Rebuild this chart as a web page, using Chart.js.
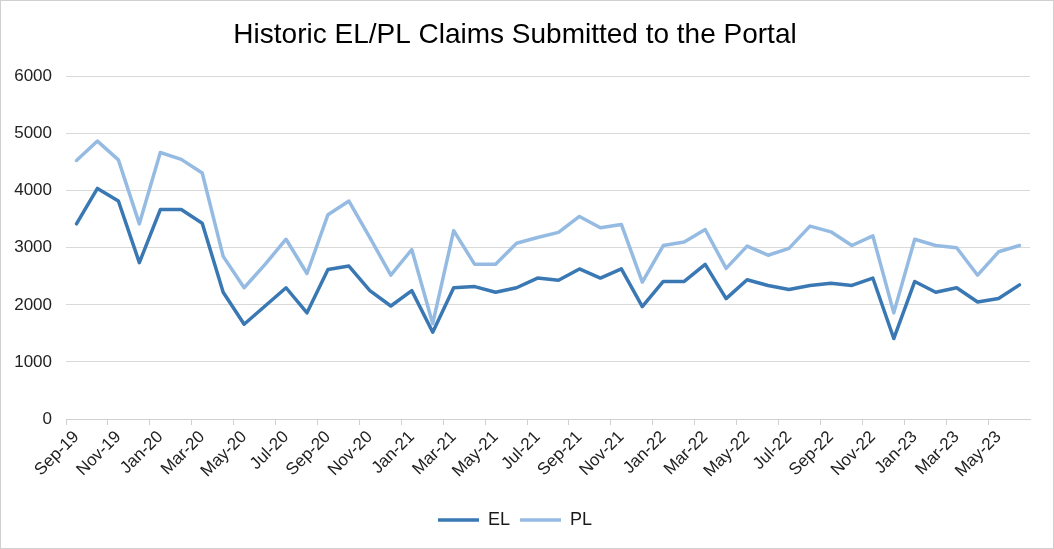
<!DOCTYPE html>
<html>
<head>
<meta charset="utf-8">
<script src="https://cdn.jsdelivr.net/npm/chart.js@4/dist/chart.umd.min.js"></script>
<style>
  body { margin: 0; background: #fff; }
  #wrap { position: relative; width: 1054px; height: 549px; }
</style>
</head>
<body>
<div id="wrap"><canvas id="myChart" width="1054" height="549"></canvas></div>
<script>
// months Sep-19 .. Jun-23
const months = [
  'Sep-19', 'Oct-19', 'Nov-19', 'Dec-19',
  'Jan-20', 'Feb-20', 'Mar-20', 'Apr-20', 'May-20', 'Jun-20', 'Jul-20', 'Aug-20', 'Sep-20', 'Oct-20', 'Nov-20', 'Dec-20',
  'Jan-21', 'Feb-21', 'Mar-21', 'Apr-21', 'May-21', 'Jun-21', 'Jul-21', 'Aug-21', 'Sep-21', 'Oct-21', 'Nov-21', 'Dec-21',
  'Jan-22', 'Feb-22', 'Mar-22', 'Apr-22', 'May-22', 'Jun-22', 'Jul-22', 'Aug-22', 'Sep-22', 'Oct-22', 'Nov-22', 'Dec-22',
  'Jan-23', 'Feb-23', 'Mar-23', 'Apr-23', 'May-23', 'Jun-23'
];

const elClaims = [
  3420, 4040, 3820, 2740,
  3670, 3670, 3430, 2220, 1660, 1980, 2300, 1860, 2620, 2680, 2250, 1980,
  2250, 1520, 2300, 2320, 2220, 2300, 2470, 2430, 2630, 2470, 2630, 1970,
  2410, 2410, 2710, 2110, 2440, 2340, 2270, 2340, 2380, 2340, 2470, 1410,
  2410, 2220, 2300, 2050, 2110, 2350
];

const plClaims = [
  4530, 4870, 4540, 3420,
  4670, 4550, 4310, 2850, 2300, 2710, 3150, 2550, 3580, 3820, 3180, 2520,
  2970, 1670, 3300, 2710, 2710, 3080, 3180, 3270, 3550, 3350, 3410, 2400,
  3040, 3100, 3320, 2640, 3030, 2870, 2990, 3380, 3280, 3040, 3210, 1860,
  3150, 3040, 3000, 2520, 2930, 3040
];

const yTicks = [0, 1000, 2000, 3000, 4000, 5000, 6000];

const frame = {
  id: 'frame',
  beforeDraw(chart) {
    const ctx = chart.ctx;
    ctx.save();
    ctx.fillStyle = '#fff';
    ctx.fillRect(0, 0, chart.width, chart.height);
    ctx.strokeStyle = '#d0d0d0';
    ctx.lineWidth = 1;
    ctx.strokeRect(0.5, 0.5, chart.width - 1, chart.height - 1);
    ctx.restore();
  }
};

Chart.defaults.font.family = '"Liberation Sans", Arial, sans-serif';
Chart.defaults.color = '#222';

var ctx = document.getElementById('myChart').getContext('2d');
var myChart = new Chart(ctx, {
  type: 'line',
  data: {
    labels: months,
    datasets: [{
      label: 'EL',
      data: elClaims,
      borderColor: '#3a78b4',
      backgroundColor: '#3a78b4',
      borderWidth: 3.5,
      pointRadius: 0,
      tension: 0,
      borderJoinStyle: 'round',
      borderCapStyle: 'round'
    },
    {
      label: 'PL',
      data: plClaims,
      borderColor: '#95bbe3',
      backgroundColor: '#95bbe3',
      borderWidth: 3.5,
      pointRadius: 0,
      tension: 0,
      borderJoinStyle: 'round',
      borderCapStyle: 'round'
    }]
  },
  options: {
    responsive: false,
    animation: false,
    layout: { padding: { left: 0, right: 24, top: 0, bottom: 10 } },
    plugins: {
      title: {
        display: true,
        text: 'Historic EL/PL Claims Submitted to the Portal',
        color: '#000',
        font: { size: 28, weight: 'normal' },
        padding: { top: 18, bottom: 25 }
      },
      legend: {
        position: 'bottom',
        labels: {
          usePointStyle: true,
          pointStyle: 'line',
          pointStyleWidth: 41,
          color: '#1a1a1a',
          font: { size: 18 },
          padding: 10
        }
      },
      tooltip: { enabled: false }
    },
    scales: {
      x: {
        offset: true,
        grid: {
          offset: true,
          drawOnChartArea: false,
          tickLength: 6,
          color: ctx => (ctx.index % 2 === 0 ? '#d0d0d0' : 'rgba(0,0,0,0)')
        },
        border: { color: '#d0d0d0' },
        ticks: {
          autoSkip: false,
          minRotation: 45,
          maxRotation: 45,
          padding: 2,
          font: { size: 17 },
          callback: function (v, i) { return i % 2 === 0 ? months[i] : ''; }
        },
        afterFit: s => { s.height = 82; }
      },
      y: {
        min: 0,
        max: 6000,
        afterBuildTicks: s => { s.ticks = yTicks.map(v => ({ value: v })); },
        grid: { color: '#d9d9d9', drawTicks: false },
        border: { display: false },
        ticks: { padding: 14, font: { size: 17 }, callback: v => String(v) },
        afterFit: s => { s.width = 66; }
      }
    }
  },
  plugins: [frame]
});
</script>
</body>
</html>
